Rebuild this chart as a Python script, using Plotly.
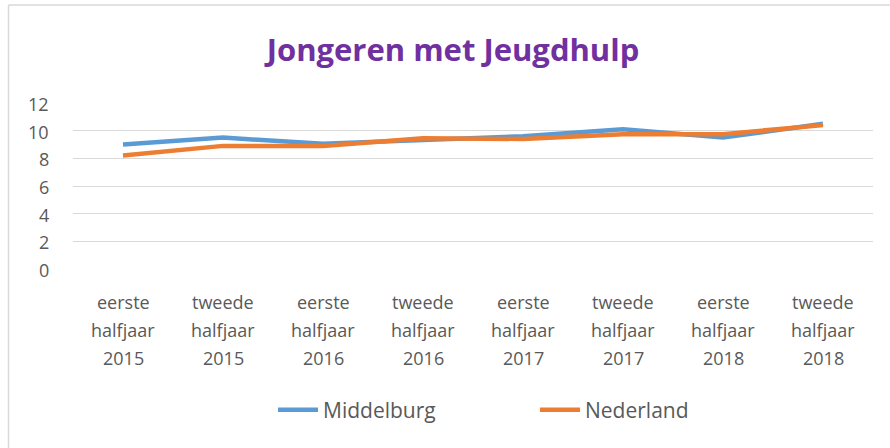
import plotly.graph_objects as go

halves = ["eerste", "tweede", "eerste", "tweede", "eerste", "tweede", "eerste", "tweede"]
years = ["2015", "2015", "2016", "2016", "2017", "2017", "2018", "2018"]
categories = [f"{h} halfjaar {y}" for h, y in zip(halves, years)]
middelburg = [9.0, 9.5, 9.05, 9.3, 9.6, 10.1, 9.5, 10.5]
nederland = [8.2, 8.9, 8.9, 9.45, 9.4, 9.75, 9.75, 10.4]
y_ticks = [0, 2, 4, 6, 8, 10, 12]

W, H = 890, 448
ml, mr, mt, mb = 73, 17, 103, 179

fig = go.Figure()
fig.add_trace(go.Scatter(x=categories, y=middelburg, name="Middelburg", mode="lines",
                         line=dict(color="#5B9BD5", width=4.5)))
fig.add_trace(go.Scatter(x=categories, y=nederland, name="Nederland", mode="lines",
                         line=dict(color="#ED7D31", width=4.5)))

pw = W - ml - mr
ph = H - mt - mb


def px_x(px):
    return (px - ml) / pw


def px_y(py):
    return (H - mb - py) / ph


# multi-line category labels with wider line spacing
line_y = [302, 330, 358]
for cat, h, y in zip(categories, halves, years):
    for txt, py in zip([h, "halfjaar", y], line_y):
        fig.add_annotation(x=cat, xref="x", y=px_y(py), yref="paper",
                           text=txt, showarrow=False, xanchor="center", yanchor="middle",
                           font=dict(size=18, color="#595959"))

# y tick labels
for v in y_ticks:
    fig.add_annotation(x=px_x(51), xref="paper", y=v, yref="y", yshift=-1,
                       text=str(v), showarrow=False, xanchor="right", yanchor="middle",
                       font=dict(size=18, color="#595959"))

# chart border (top and left edges visible)
fig.add_shape(type="line", xref="paper", yref="paper",
              x0=px_x(8.5), x1=px_x(W + 5), y0=px_y(5), y1=px_y(5),
              line=dict(color="#D9D9D9", width=1.5), layer="below")
fig.add_shape(type="line", xref="paper", yref="paper",
              x0=px_x(8.5), x1=px_x(8.5), y0=px_y(5), y1=px_y(H + 5),
              line=dict(color="#D9D9D9", width=1.5), layer="below")

fig.update_layout(
    width=W, height=H,
    margin=dict(l=ml, r=mr, t=mt, b=mb, autoexpand=False),
    paper_bgcolor="white", plot_bgcolor="white",
    font=dict(family="Open Sans, Liberation Sans, sans-serif", color="#595959", size=18),
    title=dict(text="<b>Jongeren met Jeugdhulp</b>", x=453 / W, xref="container",
               xanchor="center", y=1 - 50 / H, yref="container", yanchor="middle",
               font=dict(size=31, color="#7030A0", family="Open Sans, sans-serif")),
    xaxis=dict(type="category", range=[-0.5, 7.5], showgrid=False, showline=False,
               ticks="", showticklabels=False, automargin=False),
    yaxis=dict(range=[0, 12], tickvals=y_ticks, showgrid=True, gridcolor="#D9D9D9",
               gridwidth=1.3, zeroline=False, showline=False, ticks="", automargin=False,
               showticklabels=False),
    legend=dict(orientation="h", x=273 / W, xanchor="left", xref="container",
                y=1 - 410 / H, yref="container",
                yanchor="middle", font=dict(size=21, color="#595959"),
                itemwidth=40, tracegroupgap=0, entrywidth=207, entrywidthmode="pixels"),
    showlegend=True,
)

fig.write_html("out.html", config={"displayModeBar": False},
               post_script="document.body.style.margin='0';")
